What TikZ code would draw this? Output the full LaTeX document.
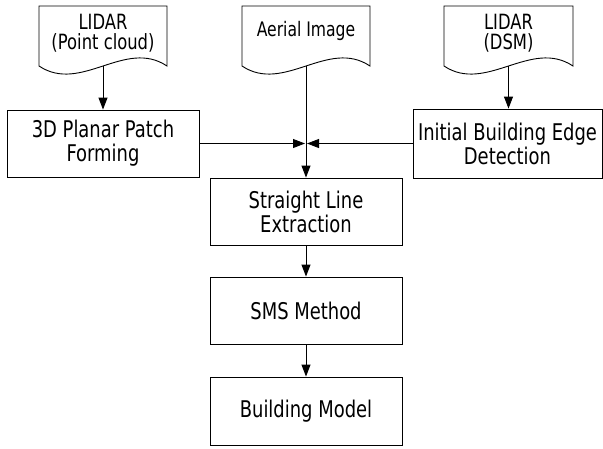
\documentclass[tikz,border=0pt]{standalone}
\usepackage{fontspec}
\setmainfont[FakeStretch=0.78]{DejaVu Sans}
\usetikzlibrary{arrows.meta}
\newcommand\docshape[2]{\draw (#1,6) -- (#1,66) .. controls ({#1+42},94) and ({#2-42},38) .. (#2,66) -- (#2,6) -- cycle;}
\begin{document}
\begin{tikzpicture}[x=1pt,y=-1pt,line width=0.9pt,
  box/.style={draw, minimum width=192pt, minimum height=67pt, align=center,
    font=\fontsize{23}{24}\selectfont, inner sep=0pt},
  doctext/.style={align=center, font=\fontsize{21}{20}\selectfont, inner sep=0pt},
  arr/.style={-{Triangle[length=12pt,width=9pt]}}]
\useasboundingbox (0,0) rectangle (603,448);

% documents
\docshape{39}{167}
\docshape{242}{370}
\docshape{444}{573}
\node[doctext] (d1) at (103,33) {LIDAR\\(Point cloud)};
\node[doctext, font=\fontsize{20}{20}\selectfont] (d2) at (306,31) {Aerial Image};
\node[doctext] (d3) at (508.5,33) {LIDAR\\(DSM)};
\coordinate (d1b) at (103,66);
\coordinate (d2b) at (306,66);
\coordinate (d3b) at (508.5,66);

% boxes
\node[box] (b1) at (103,143.5) {3D Planar Patch\\Forming};
\node[box, minimum width=189pt, minimum height=69pt] (b2) at (507.5,143.5) {Initial Building Edge\\Detection};
\node[box] (sle) at (306,211.5) {Straight Line\\Extraction};
\node[box] (sms) at (306,310.5) {SMS Method};
\node[box, minimum height=68pt] (bm) at (306,411) {Building Model};

\coordinate (jl) at (305,143.5);
\coordinate (jr) at (307,143.5);

% connectors
\draw[arr] (d1b) -- (d1b |- b1.north);
\draw[arr] (d3b) -- (d3b |- b2.north);
\draw[arr] (d2b) -- (sle.north);
\draw[arr] (b1.east) -- (jl);
\draw[arr] (b2.west) -- (jr);
\draw[arr] (sle.south) -- (sms.north);
\draw[arr] (sms.south) -- (bm.north);
\end{tikzpicture}
\end{document}
